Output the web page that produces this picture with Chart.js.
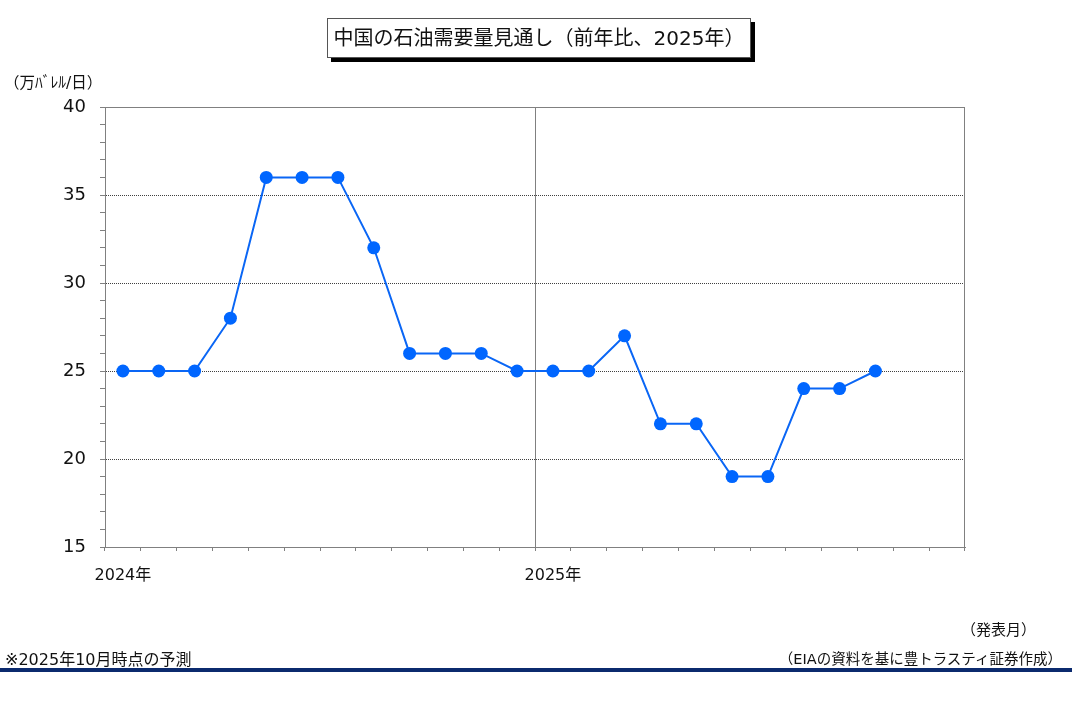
<!DOCTYPE html>
<html>
<head>
<meta charset="utf-8">
<script src="https://cdn.jsdelivr.net/npm/chart.js@4.4.1/dist/chart.umd.min.js"></script>
<style>
  body { margin: 0; background: #fff; font-family: "DejaVu Sans", "Noto Sans CJK JP", sans-serif; color: #111; }
  #wrap { position: relative; width: 1074px; height: 707px; overflow: hidden; }
  #c { position: absolute; left: 0; top: 0; }
  .txt { position: absolute; white-space: nowrap; }
  #title { left: 327px; top: 18px; width: 422px; height: 38px; border: 1px solid #555; background: #fff;
           box-shadow: 4px 4px 0 #000; font-size: 20px; line-height: 38px; text-align: center; }
  #unit { left: 4px; top: 70px; font-size: 15.5px; }
  #note { left: 5px; top: 646px; font-size: 16px; }
  #month { right: 38px; top: 618px; font-size: 15px; }
  #src { right: 12px; top: 647px; font-size: 14.5px; }
  #rule { position: absolute; left: 0; top: 668px; width: 1072px; height: 4px; background: #0b2a6e; }
</style>
</head>
<body>
<div id="wrap">
  <canvas id="c" width="1074" height="707"></canvas>
  <div id="title" class="txt">中国の石油需要量見通し（前年比、2025年）</div>
  <div id="unit" class="txt">（万ﾊﾞﾚﾙ/日）</div>
  <div id="month" class="txt">（発表月）</div>
  <div id="note" class="txt">※2025年10月時点の予測</div>
  <div id="src" class="txt">（EIAの資料を基に豊トラスティ証券作成）</div>
  <div id="rule"></div>
</div>
<script>
// 発表月 2024/1 - 2025/12
const months = ['2024年', '', '', '', '', '', '', '', '', '', '', '',
                '2025年', '', '', '', '', '', '', '', '', '', '', ''];
// 前年比の需要増加見通し（万バレル/日）
const demandGrowth = [25, 25, 25, 28, 36, 36, 36, 32, 26, 26, 26, 25,
                      25, 25, 27, 22, 22, 19, 19, 24, 24, 25];
const yMin = 15, yMax = 40;

const boxPlugin = {
  id: 'box',
  beforeDatasetsDraw(chart) {
    const a = chart.chartArea, ctx = chart.ctx;
    ctx.save();
    ctx.strokeStyle = '#808080';
    ctx.lineWidth = 1;
    ctx.strokeRect(a.left + 0.5, a.top + 0.5, a.right - a.left - 1, a.bottom - a.top);
    ctx.restore();
  }
};

const ctx = document.getElementById('c').getContext('2d');
new Chart(ctx, {
  type: 'line',
  data: {
    labels: months,
    datasets: [{
      data: demandGrowth,
      borderColor: '#0a66f5',
      backgroundColor: '#0066ff',
      borderWidth: 2,
      pointRadius: 6.5,
      pointBorderWidth: 0,
      pointBackgroundColor: '#0066ff',
      tension: 0,
      fill: false
    }]
  },
  plugins: [boxPlugin],
  options: {
    responsive: false,
    animation: false,
    layout: { padding: { left: 0, top: 107, right: 109, bottom: 0 } },
    plugins: { legend: { display: false }, tooltip: { enabled: false } },
    scales: {
      x: {
        type: 'category',
        offset: true,
        afterFit: s => { s.height = 160; },
        grid: {
          offset: true,
          color: c => c.index === 12 ? '#808080' : 'rgba(0,0,0,0)',
          tickColor: '#808080',
          tickLength: 4,
          lineWidth: 1
        },
        border: { color: '#808080', width: 1 },
        ticks: {
          autoSkip: false,
          maxRotation: 0,
          padding: 15,
          color: '#111',
          font: { family: '"DejaVu Sans", "Noto Sans CJK JP"', size: 16 }
        }
      },
      y: {
        min: yMin,
        max: yMax,
        afterFit: s => { s.width = 105; },
        grid: {
          color: c => (c.tick && c.tick.value % 5 === 0 && c.tick.value !== yMin && c.tick.value !== yMax) ? '#404040' : 'rgba(0,0,0,0)',
          tickColor: '#808080',
          tickLength: 5,
          lineWidth: 1
        },
        border: { color: '#808080', width: 1, dash: [1, 1] },
        ticks: {
          stepSize: 1,
          autoSkip: false,
          padding: 14,
          color: '#111',
          font: { family: '"DejaVu Sans"', size: 18 },
          callback: v => v % 5 === 0 ? v : ''
        }
      }
    }
  }
});
</script>
</body>
</html>
